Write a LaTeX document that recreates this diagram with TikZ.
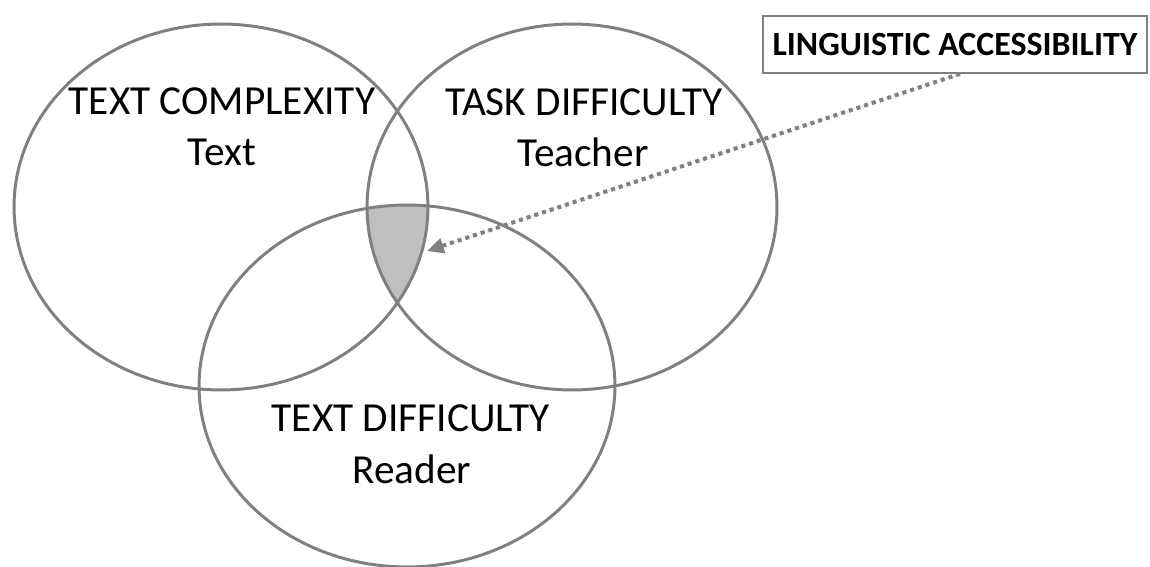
\documentclass[tikz,border=0pt]{standalone}
\usepackage{fontspec}
\setmainfont{Carlito}
\usetikzlibrary{arrows.meta}
\definecolor{ringgray}{HTML}{808080}
\definecolor{shadegray}{HTML}{BFBFBF}

\begin{document}
\begin{tikzpicture}[x=0.02cm,y=-0.02cm,>={Triangle[length=9.5pt,width=8.5pt]},ringline/.style={draw=ringgray,line width=1.7pt},ringtext/.style={font=\fontsize{23.5}{28}\selectfont,anchor=base,inner sep=0pt},keybox/.style={draw=ringgray,line width=1pt,minimum width=7.68cm,minimum height=1.14cm,inner sep=0pt,font=\fontsize{19.3}{23}\selectfont\bfseries},dotarrow/.style={->,draw=ringgray,fill=ringgray,line width=2.3pt,dash pattern=on 2.3pt off 2.3pt}]
\useasboundingbox (0,0) rectangle (1150,567);
\coordinate (cpx) at (221,207);
\coordinate (task) at (572,207);
\coordinate (diff) at (407,386);
\coordinate (tip) at (427,251);
% overlap of all three
\begin{scope}
\clip (cpx) ellipse [x radius=4.14cm, y radius=3.66cm];
\clip (task) ellipse [x radius=4.10cm, y radius=3.66cm];
\fill[shadegray] (diff) ellipse [x radius=4.16cm, y radius=3.62cm];
\end{scope}
\draw[ringline] (cpx) ellipse [x radius=4.14cm, y radius=3.66cm];
\draw[ringline] (task) ellipse [x radius=4.10cm, y radius=3.66cm];
\draw[ringline] (diff) ellipse [x radius=4.16cm, y radius=3.62cm];
\node[ringtext] (cpxtitle) at (222,115) {TEXT COMPLEXITY};
\node[ringtext] (cpxsub) at (222,166) {Text};
\node[ringtext] (tasktitle) at (584,116) {TASK DIFFICULTY};
\node[ringtext] (tasksub) at (583,167) {Teacher};
\node[ringtext] (difftitle) at (411,432) {TEXT DIFFICULTY};
\node[ringtext] (diffsub) at (412,483) {Reader};
\node[keybox] (access) at (955,44.5) {LINGUISTIC ACCESSIBILITY};
\path ([xshift=0.1cm]access.south) edge[dotarrow] (tip);
\end{tikzpicture}
\end{document}
